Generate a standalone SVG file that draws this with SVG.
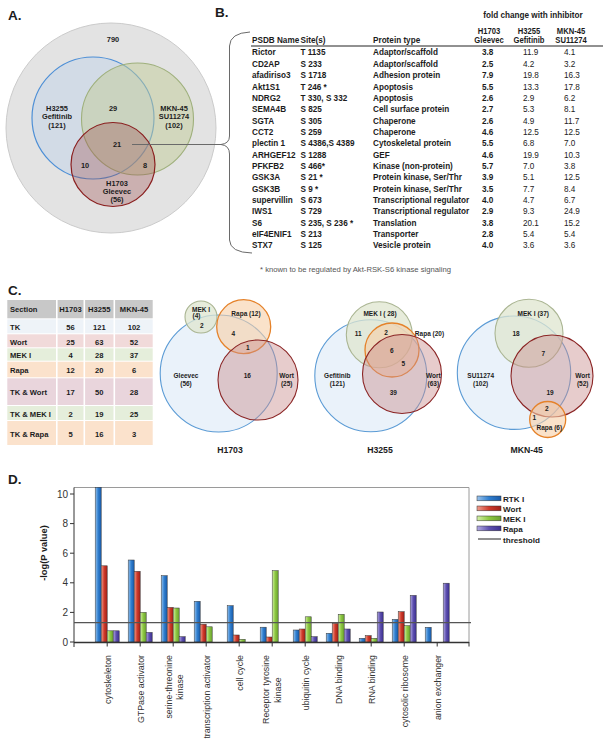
<svg xmlns="http://www.w3.org/2000/svg" width="603" height="744" viewBox="0 0 603 744">
<defs>
<style>
text{font-family:"Liberation Sans",Arial,sans-serif;font-weight:bold;fill:#1c1c1c}
.lab{font-size:13.5px}
.a{font-size:7.4px;text-anchor:middle}
.b{font-size:9.4px}
.bn{font-size:9.4px;font-weight:normal;fill:#222}
.h{font-size:9.4px;text-anchor:middle}
.hs{font-size:8.8px;text-anchor:middle}
.fn{font-size:7.7px;font-weight:normal;fill:#555}
.c{font-size:7.6px}
.cm{font-size:7.6px;text-anchor:middle}
.v{font-size:6.5px;text-anchor:middle}
.vt{font-size:8.7px;text-anchor:middle}
.ax{font-size:10px;font-weight:normal;fill:#333;text-anchor:end}
.cat{font-size:8.8px;font-weight:normal;fill:#333}
.lg{font-size:8.1px}
.cb{fill:#b8d0ec;fill-opacity:.38;stroke:#4d8fd6;stroke-width:1.2}
.cg{fill:#c2cb98;fill-opacity:.5;stroke:#9fb07c;stroke-width:1.1}
.cr{fill:#9c4848;fill-opacity:.33;stroke:#8a1f1f;stroke-width:1.2}
.vb{fill:#dce9f6;fill-opacity:.6;stroke:#5b9bd5;stroke-width:1.1}
.vg{fill:#dfe6cf;fill-opacity:.75;stroke:#aab592;stroke-width:1.1}
.vo{fill:#f6cfa6;fill-opacity:.6;stroke:#e5822a;stroke-width:1.3}
.vw{fill:#c98e8e;fill-opacity:.45;stroke:#8b2525;stroke-width:1.1}
.bar{stroke:#333;stroke-width:.5}
.b1{fill:url(#gB)}.b2{fill:url(#gR)}.b3{fill:url(#gG)}.b4{fill:url(#gP)}
</style>
<linearGradient id="gB" x1="0" y1="0" x2="1" y2="0"><stop offset="0" stop-color="#9cc4ec"/><stop offset=".5" stop-color="#2f7fd0"/><stop offset="1" stop-color="#1a5aa8"/></linearGradient>
<linearGradient id="gR" x1="0" y1="0" x2="1" y2="0"><stop offset="0" stop-color="#f0a090"/><stop offset=".5" stop-color="#d03a2a"/><stop offset="1" stop-color="#a02018"/></linearGradient>
<linearGradient id="gG" x1="0" y1="0" x2="1" y2="0"><stop offset="0" stop-color="#d4f0a8"/><stop offset=".5" stop-color="#8cc840"/><stop offset="1" stop-color="#6aa030"/></linearGradient>
<linearGradient id="gP" x1="0" y1="0" x2="1" y2="0"><stop offset="0" stop-color="#b4ace4"/><stop offset=".5" stop-color="#5e50b0"/><stop offset="1" stop-color="#3c3090"/></linearGradient>
</defs>
<rect width="603" height="744" fill="#fff"/>

<!-- Panel A -->
<g id="panelA">
<text class="lab" x="8" y="20">A.</text>
<g id="A-all"><circle cx="111" cy="128" r="105" fill="#e3e3e3" stroke="#cbcbcb"/><text class="a" x="113" y="41.5">790</text></g>
<g id="A-H3255"><circle class="cb" cx="93" cy="118" r="61"/></g>
<g id="A-MKN45"><circle class="cg" cx="137.5" cy="119" r="56"/></g>
<g id="A-H1703"><circle class="cr" cx="113" cy="164.5" r="42"/></g>
<text class="a" x="57" y="111">H3255</text><text class="a" x="57" y="119.3">Gefitinib</text><text class="a" x="57" y="127.5">(121)</text>
<text class="a" x="174" y="111">MKN-45</text><text class="a" x="174" y="119.3">SU11274</text><text class="a" x="174" y="127.5">(102)</text>
<text class="a" x="113" y="111">29</text>
<text class="a" x="117" y="147">21</text>
<text class="a" x="85" y="168">10</text>
<text class="a" x="145" y="168">8</text>
<text class="a" x="117" y="185.5">H1703</text><text class="a" x="117" y="194">Gleevec</text><text class="a" x="117" y="202">(56)</text>
</g>

<g id="connectors" fill="none" stroke="#6a6a6a" stroke-width="1">
<line x1="132" y1="144.5" x2="221" y2="144.5"/>
<path d="M250,32 Q230,33 229.5,46 L229.5,136 Q229.5,143.5 221,144.5 Q229.5,145.5 229.5,154 L229.5,240 Q230,252.5 252,253"/>
</g>

<!-- Panel B -->
<g id="panelB">
<text class="lab" x="215" y="17">B.</text>
<line x1="251" y1="46" x2="603" y2="46" stroke="#222" stroke-width="1"/>
<g transform="translate(252,0) scale(0.87,1)">
<text class="h" x="322.9" y="18">fold change with  inhibitor</text>
<text class="hs" x="272.4" y="34">H1703</text><text class="hs" x="272.4" y="43.5">Gleevec</text>
<text class="hs" x="318.4" y="34">H3255</text><text class="hs" x="318.4" y="43.5">Gefitinib</text>
<text class="hs" x="366.7" y="34">MKN-45</text><text class="hs" x="366.7" y="43.5">SU11274</text>
<text class="b" x="0" y="43.5">PSDB Name</text><text class="b" x="55.7" y="43.5">Site(s)</text><text class="b" x="139.1" y="43.5">Protein type</text>
<g id="B-rows">
<text class="b" x="0" y="55.5">Rictor</text><text class="b" x="55.7" y="55.5">T 1135</text><text class="b" x="139.1" y="55.5">Adaptor/scaffold</text><text class="b" x="264.4" y="55.5">3.8</text><text class="bn" x="311.5" y="55.5">11.9</text><text class="bn" x="358.6" y="55.5">4.1</text>
<text class="b" x="0" y="66.85">CD2AP</text><text class="b" x="55.7" y="66.85">S 233</text><text class="b" x="139.1" y="66.85">Adaptor/scaffold</text><text class="b" x="264.4" y="66.85">2.5</text><text class="bn" x="311.5" y="66.85">4.2</text><text class="bn" x="358.6" y="66.85">3.2</text>
<text class="b" x="0" y="78.2">afadiriso3</text><text class="b" x="55.7" y="78.2">S 1718</text><text class="b" x="139.1" y="78.2">Adhesion protein</text><text class="b" x="264.4" y="78.2">7.9</text><text class="bn" x="311.5" y="78.2">19.8</text><text class="bn" x="358.6" y="78.2">16.3</text>
<text class="b" x="0" y="89.55">Akt1S1</text><text class="b" x="55.7" y="89.55">T 246 *</text><text class="b" x="139.1" y="89.55">Apoptosis</text><text class="b" x="264.4" y="89.55">5.5</text><text class="bn" x="311.5" y="89.55">13.3</text><text class="bn" x="358.6" y="89.55">17.8</text>
<text class="b" x="0" y="100.9">NDRG2</text><text class="b" x="55.7" y="100.9">T 330, S 332</text><text class="b" x="139.1" y="100.9">Apoptosis</text><text class="b" x="264.4" y="100.9">2.6</text><text class="bn" x="311.5" y="100.9">2.9</text><text class="bn" x="358.6" y="100.9">6.2</text>
<text class="b" x="0" y="112.25">SEMA4B</text><text class="b" x="55.7" y="112.25">S 825</text><text class="b" x="139.1" y="112.25">Cell surface protein</text><text class="b" x="264.4" y="112.25">2.7</text><text class="bn" x="311.5" y="112.25">5.3</text><text class="bn" x="358.6" y="112.25">8.1</text>
<text class="b" x="0" y="123.6">SGTA</text><text class="b" x="55.7" y="123.6">S 305</text><text class="b" x="139.1" y="123.6">Chaperone</text><text class="b" x="264.4" y="123.6">2.6</text><text class="bn" x="311.5" y="123.6">4.9</text><text class="bn" x="358.6" y="123.6">11.7</text>
<text class="b" x="0" y="134.95">CCT2</text><text class="b" x="55.7" y="134.95">S 259</text><text class="b" x="139.1" y="134.95">Chaperone</text><text class="b" x="264.4" y="134.95">4.6</text><text class="bn" x="311.5" y="134.95">12.5</text><text class="bn" x="358.6" y="134.95">12.5</text>
<text class="b" x="0" y="146.3">plectin 1</text><text class="b" x="55.7" y="146.3">S 4386,S 4389</text><text class="b" x="139.1" y="146.3">Cytoskeletal protein</text><text class="b" x="264.4" y="146.3">5.5</text><text class="bn" x="311.5" y="146.3">6.8</text><text class="bn" x="358.6" y="146.3">7.0</text>
<text class="b" x="0" y="157.65">ARHGEF12</text><text class="b" x="55.7" y="157.65">S 1288</text><text class="b" x="139.1" y="157.65">GEF</text><text class="b" x="264.4" y="157.65">4.6</text><text class="bn" x="311.5" y="157.65">19.9</text><text class="bn" x="358.6" y="157.65">10.3</text>
<text class="b" x="0" y="169">PFKFB2</text><text class="b" x="55.7" y="169">S 466*</text><text class="b" x="139.1" y="169">Kinase (non-protein)</text><text class="b" x="264.4" y="169">5.7</text><text class="bn" x="311.5" y="169">7.0</text><text class="bn" x="358.6" y="169">3.8</text>
<text class="b" x="0" y="180.35">GSK3A</text><text class="b" x="55.7" y="180.35">S 21 *</text><text class="b" x="139.1" y="180.35">Protein kinase, Ser/Thr</text><text class="b" x="264.4" y="180.35">3.9</text><text class="bn" x="311.5" y="180.35">5.1</text><text class="bn" x="358.6" y="180.35">12.5</text>
<text class="b" x="0" y="191.7">GSK3B</text><text class="b" x="55.7" y="191.7">S 9 *</text><text class="b" x="139.1" y="191.7">Protein kinase, Ser/Thr</text><text class="b" x="264.4" y="191.7">3.5</text><text class="bn" x="311.5" y="191.7">7.7</text><text class="bn" x="358.6" y="191.7">8.4</text>
<text class="b" x="0" y="203.05">supervillin</text><text class="b" x="55.7" y="203.05">S 673</text><text class="b" x="139.1" y="203.05">Transcriptional regulator</text><text class="b" x="264.4" y="203.05">4.0</text><text class="bn" x="311.5" y="203.05">4.7</text><text class="bn" x="358.6" y="203.05">6.7</text>
<text class="b" x="0" y="214.4">IWS1</text><text class="b" x="55.7" y="214.4">S 729</text><text class="b" x="139.1" y="214.4">Transcriptional regulator</text><text class="b" x="264.4" y="214.4">2.9</text><text class="bn" x="311.5" y="214.4">9.3</text><text class="bn" x="358.6" y="214.4">24.9</text>
<text class="b" x="0" y="225.75">S6</text><text class="b" x="55.7" y="225.75">S 235, S 236 *</text><text class="b" x="139.1" y="225.75">Translation</text><text class="b" x="264.4" y="225.75">3.8</text><text class="bn" x="311.5" y="225.75">20.1</text><text class="bn" x="358.6" y="225.75">15.2</text>
<text class="b" x="0" y="237.1">eIF4ENIF1</text><text class="b" x="55.7" y="237.1">S 213</text><text class="b" x="139.1" y="237.1">Transporter</text><text class="b" x="264.4" y="237.1">2.8</text><text class="bn" x="311.5" y="237.1">5.4</text><text class="bn" x="358.6" y="237.1">5.4</text>
<text class="b" x="0" y="248.45">STX7</text><text class="b" x="55.7" y="248.45">S 125</text><text class="b" x="139.1" y="248.45">Vesicle protein</text><text class="b" x="264.4" y="248.45">4.0</text><text class="bn" x="311.5" y="248.45">3.6</text><text class="bn" x="358.6" y="248.45">3.6</text>
</g>
</g>
<text class="fn" x="260" y="272">* known to be regulated by Akt-RSK-S6 kinase signaling</text>
</g>

<!-- Panel C table -->
<g id="panelC-table">
<text class="lab" x="8" y="295">C.</text>
<rect x="7.3" y="300" width="145.4" height="18.3" fill="#c8c8c8"/>
<rect x="7.3" y="319.3" width="145.4" height="14" fill="#eef3f8"/>
<rect x="7.3" y="334.3" width="145.4" height="13" fill="#f1dada"/>
<rect x="7.3" y="348.3" width="145.4" height="12.4" fill="#e5eedb"/>
<rect x="7.3" y="361.7" width="145.4" height="15.6" fill="#fbe2cc"/>
<rect x="7.3" y="378.3" width="145.4" height="26.7" fill="#e9d5dc"/>
<rect x="7.3" y="406" width="145.4" height="14" fill="#e5eedb"/>
<rect x="7.3" y="421" width="145.4" height="24" fill="#fbe2cc"/>
<g stroke="#fff" stroke-width="1.6"><line x1="56.8" y1="300" x2="56.8" y2="445"/><line x1="84.3" y1="300" x2="84.3" y2="445"/><line x1="114.3" y1="300" x2="114.3" y2="445"/></g>
<text class="c" x="10" y="312.3" fill="#333">Section</text><text class="cm" x="70.5" y="312.3">H1703</text><text class="cm" x="99.3" y="312.3">H3255</text><text class="cm" x="134" y="312.3">MKN-45</text>
<text class="c" x="10" y="330.3">TK</text><text class="cm" x="70.5" y="330.3">56</text><text class="cm" x="99.3" y="330.3">121</text><text class="cm" x="134" y="330.3">102</text>
<text class="c" x="10" y="345">Wort</text><text class="cm" x="70.5" y="345">25</text><text class="cm" x="99.3" y="345">63</text><text class="cm" x="134" y="345">52</text>
<text class="c" x="10" y="358.3">MEK I</text><text class="cm" x="70.5" y="358.3">4</text><text class="cm" x="99.3" y="358.3">28</text><text class="cm" x="134" y="358.3">37</text>
<text class="c" x="10" y="373.3">Rapa</text><text class="cm" x="70.5" y="373.3">12</text><text class="cm" x="99.3" y="373.3">20</text><text class="cm" x="134" y="373.3">6</text>
<text class="c" x="10" y="395">TK &amp; Wort</text><text class="cm" x="70.5" y="395">17</text><text class="cm" x="99.3" y="395">50</text><text class="cm" x="134" y="395">28</text>
<text class="c" x="10" y="416.6">TK &amp; MEK I</text><text class="cm" x="70.5" y="416.6">2</text><text class="cm" x="99.3" y="416.6">19</text><text class="cm" x="134" y="416.6">25</text>
<text class="c" x="10" y="436.6">TK &amp; Rapa</text><text class="cm" x="70.5" y="436.6">5</text><text class="cm" x="99.3" y="436.6">16</text><text class="cm" x="134" y="436.6">3</text>
</g>

<!-- Panel C venns -->
<g id="venn-H1703">
<circle class="vb" cx="218.7" cy="373.5" r="58.5"/>
<circle class="vg" cx="201" cy="317" r="16"/>
<circle class="vo" cx="243.7" cy="326.7" r="27"/>
<circle class="vw" cx="258" cy="380" r="40"/>
<text class="v" x="201" y="311.5">MEK I</text><text class="v" x="196.5" y="317.8">(4)</text>
<text class="v" x="201.7" y="327.8">2</text>
<text class="v" x="246" y="316">Rapa (12)</text>
<text class="v" x="233.3" y="335.5">4</text>
<text class="v" x="247.7" y="350">1</text>
<text class="v" x="186" y="377.5">Gleevec</text><text class="v" x="186" y="386">(56)</text>
<text class="v" x="247.3" y="377.5">16</text>
<text class="v" x="286.7" y="377.5">Wort</text><text class="v" x="286.7" y="386">(25)</text>
<text class="vt" x="230" y="452.7">H1703</text>
</g>
<g id="venn-H3255">
<circle class="vb" cx="370.8" cy="375.8" r="56"/>
<circle class="vg" cx="379.3" cy="334.7" r="33"/>
<circle class="vo" cx="392" cy="350" r="27"/>
<circle class="vw" cx="402" cy="374" r="39.5"/>
<text class="v" x="380" y="316">MEK I ( 28)</text>
<text class="v" x="358.3" y="336">11</text>
<text class="v" x="386" y="334.5">2</text>
<text class="v" x="429.5" y="335.5">Rapa (20)</text>
<text class="v" x="391.7" y="353">6</text>
<text class="v" x="403.3" y="365.5">5</text>
<text class="v" x="337.3" y="377.5">Gefitinib</text><text class="v" x="337.3" y="386">(121)</text>
<text class="v" x="433.3" y="377.5">Wort</text><text class="v" x="433.3" y="386">(63)</text>
<text class="v" x="393.3" y="395">39</text>
<text class="vt" x="380" y="452.7">H3255</text>
</g>
<g id="venn-MKN45">
<circle class="vb" cx="514" cy="372.7" r="56.7"/>
<circle class="vg" cx="529" cy="333.3" r="34"/>
<circle class="vw" cx="552" cy="376" r="41"/>
<circle class="vo" cx="547.7" cy="419.5" r="18"/>
<text class="v" x="533.3" y="315.5">MEK I (37)</text>
<text class="v" x="516" y="336">18</text>
<text class="v" x="543.3" y="356">7</text>
<text class="v" x="480.7" y="377.5">SU11274</text><text class="v" x="480.7" y="386">(102)</text>
<text class="v" x="582.7" y="377.5">Wort</text><text class="v" x="582.7" y="386">(52)</text>
<text class="v" x="550" y="394.5">19</text>
<text class="v" x="546.7" y="411">2</text>
<text class="v" x="534.3" y="420">1</text>
<text class="v" x="549.3" y="430">Rapa (6)</text>
<text class="vt" x="526.7" y="452.7">MKN-45</text>
</g>

<!-- Panel D -->
<g id="panelD">
<text class="lab" x="8" y="484">D.</text>
<g fill="none">
<path d="M74,487.5 H469 V642.5" stroke="#9a9a9a" stroke-width="1"/>
<line x1="74" y1="487.5" x2="74" y2="647" stroke="#333" stroke-width="1"/>
</g>
<g stroke="#333" stroke-width="1">
<line x1="70" y1="642" x2="74" y2="642"/><line x1="70" y1="612.4" x2="74" y2="612.4"/><line x1="70" y1="582.8" x2="74" y2="582.8"/><line x1="70" y1="553.2" x2="74" y2="553.2"/><line x1="70" y1="523.6" x2="74" y2="523.6"/><line x1="70" y1="494" x2="74" y2="494"/>
<line x1="107.2" y1="642" x2="107.2" y2="646.5"/><line x1="140.2" y1="642" x2="140.2" y2="646.5"/><line x1="173.2" y1="642" x2="173.2" y2="646.5"/><line x1="206.2" y1="642" x2="206.2" y2="646.5"/><line x1="239.2" y1="642" x2="239.2" y2="646.5"/><line x1="272.2" y1="642" x2="272.2" y2="646.5"/><line x1="305.2" y1="642" x2="305.2" y2="646.5"/><line x1="338.2" y1="642" x2="338.2" y2="646.5"/><line x1="371.2" y1="642" x2="371.2" y2="646.5"/><line x1="404.2" y1="642" x2="404.2" y2="646.5"/><line x1="437.2" y1="642" x2="437.2" y2="646.5"/><line x1="469" y1="642" x2="469" y2="646.5"/>
</g>
<text class="ax" x="68" y="645.5">0</text><text class="ax" x="68" y="615.9">2</text><text class="ax" x="68" y="586.3">4</text><text class="ax" x="68" y="556.7">6</text><text class="ax" x="68" y="527.1">8</text><text class="ax" x="68" y="497.5">10</text>
<text transform="translate(46.5,553) rotate(-90)" style="font-size:9.3px;text-anchor:middle">-log(P value)</text>
<g id="bars">
<rect class="bar b1" x="95.2" y="487.3" width="6" height="154.7"/><rect class="bar b2" x="101.2" y="565.8" width="6" height="76.2"/><rect class="bar b3" x="107.2" y="630.8" width="6" height="11.2"/><rect class="bar b4" x="113.2" y="630.8" width="6" height="11.2"/>
<rect class="bar b1" x="128.2" y="560" width="6" height="82"/><rect class="bar b2" x="134.2" y="571.3" width="6" height="70.7"/><rect class="bar b3" x="140.2" y="612.4" width="6" height="29.6"/><rect class="bar b4" x="146.2" y="632.4" width="6" height="9.6"/>
<rect class="bar b1" x="161.2" y="575.7" width="6" height="66.3"/><rect class="bar b2" x="167.2" y="607.4" width="6" height="34.6"/><rect class="bar b3" x="173.2" y="608" width="6" height="34"/><rect class="bar b4" x="179.2" y="636.7" width="6" height="5.3"/>
<rect class="bar b1" x="194.2" y="601.3" width="6" height="40.7"/><rect class="bar b2" x="200.2" y="624.2" width="6" height="17.8"/><rect class="bar b3" x="206.2" y="626.8" width="6" height="15.2"/>
<rect class="bar b1" x="227.2" y="605.7" width="6" height="36.3"/><rect class="bar b2" x="233.2" y="635" width="6" height="7"/><rect class="bar b3" x="239.2" y="639.3" width="6" height="2.7"/>
<rect class="bar b1" x="260.2" y="627.2" width="6" height="14.8"/><rect class="bar b2" x="266.2" y="637" width="6" height="5"/><rect class="bar b3" x="272.2" y="570.7" width="6" height="71.3"/>
<rect class="bar b1" x="293.2" y="630" width="6" height="12"/><rect class="bar b2" x="299.2" y="629" width="6" height="13"/><rect class="bar b3" x="305.2" y="616.8" width="6" height="25.2"/><rect class="bar b4" x="311.2" y="636.7" width="6" height="5.3"/>
<rect class="bar b1" x="326.2" y="633.3" width="6" height="8.7"/><rect class="bar b2" x="332.2" y="623.4" width="6" height="18.6"/><rect class="bar b3" x="338.2" y="614.3" width="6" height="27.7"/><rect class="bar b4" x="344.2" y="629" width="6" height="13"/>
<rect class="bar b1" x="359.2" y="638.3" width="6" height="3.7"/><rect class="bar b2" x="365.2" y="635.6" width="6" height="6.4"/><rect class="bar b3" x="371.2" y="638.3" width="6" height="3.7"/><rect class="bar b4" x="377.2" y="612" width="6" height="30"/>
<rect class="bar b1" x="392.2" y="619.4" width="6" height="22.6"/><rect class="bar b2" x="398.2" y="611.7" width="6" height="30.3"/><rect class="bar b3" x="404.2" y="625.7" width="6" height="16.3"/><rect class="bar b4" x="410.2" y="595.4" width="6" height="46.6"/>
<rect class="bar b1" x="425.2" y="627.3" width="6" height="14.7"/><rect class="bar b4" x="443.2" y="583.2" width="6" height="58.8"/>
</g>
<line x1="74" y1="642.5" x2="469" y2="642.5" stroke="#333" stroke-width="1.3"/>
<line x1="74" y1="622.7" x2="471" y2="622.7" stroke="#555" stroke-width="1.2"/>
<g id="categories">
<text class="cat" transform="translate(110.5,655) rotate(-90)" text-anchor="end">cytoskeleton</text>
<text class="cat" transform="translate(143.5,655) rotate(-90)" text-anchor="end">GTPase activator</text>
<text class="cat" transform="translate(171.5,655) rotate(-90)" text-anchor="end">serine-threonine</text>
<text class="cat" transform="translate(183.2,687) rotate(-90)" text-anchor="middle">kinase</text>
<text class="cat" transform="translate(209.5,655) rotate(-90)" text-anchor="end">transcription activator</text>
<text class="cat" transform="translate(242.5,655) rotate(-90)" text-anchor="end">cell cycle</text>
<text class="cat" transform="translate(269,655) rotate(-90)" text-anchor="end">Receptor tyrosine</text>
<text class="cat" transform="translate(281,690) rotate(-90)" text-anchor="middle">kinase</text>
<text class="cat" transform="translate(308.5,655) rotate(-90)" text-anchor="end">ubiquitin cycle</text>
<text class="cat" transform="translate(341.5,655) rotate(-90)" text-anchor="end">DNA binding</text>
<text class="cat" transform="translate(374.5,655) rotate(-90)" text-anchor="end">RNA binding</text>
<text class="cat" transform="translate(407.5,655) rotate(-90)" text-anchor="end">cytosolic ribosome</text>
<text class="cat" transform="translate(440.5,655) rotate(-90)" text-anchor="end">anion exchanger</text>
</g>
<g id="legend">
<rect class="bar b1" x="477" y="496" width="24" height="4.8"/><text class="lg" x="503" y="501.8">RTK I</text>
<rect class="bar b2" x="477" y="506" width="24" height="4.8"/><text class="lg" x="503" y="511.8">Wort</text>
<rect class="bar b3" x="477" y="516" width="24" height="4.8"/><text class="lg" x="503" y="521.8">MEK I</text>
<rect class="bar b4" x="477" y="526" width="24" height="4.8"/><text class="lg" x="503" y="531.8">Rapa</text>
<line x1="478" y1="539" x2="501" y2="539" stroke="#222" stroke-width="1"/><text class="lg" x="503" y="542.5">threshold</text>
</g>
</g>
</svg>
